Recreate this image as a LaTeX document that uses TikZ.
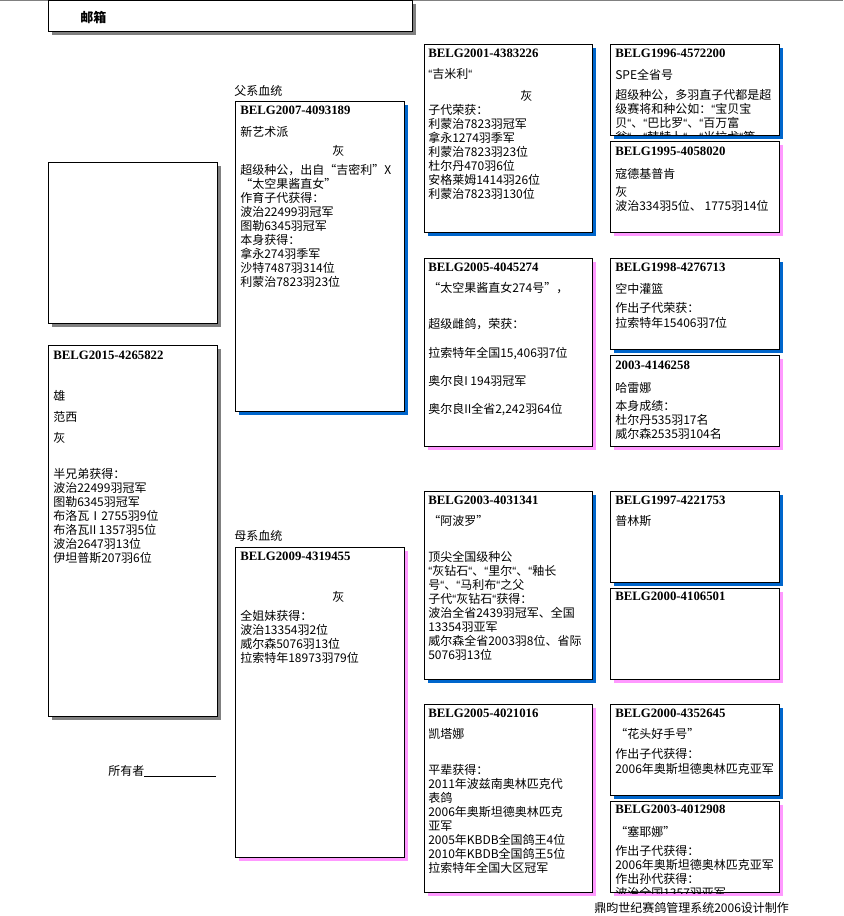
\documentclass[tikz,border=0pt]{standalone}
\usepackage{fontspec}
\usetikzlibrary{shadows}
\usepackage{xcolor}
\newfontfamily\cjk{Noto Sans CJK SC}
\newfontfamily\codefont{Liberation Serif}
\newfontfamily\latinfont{Liberation Sans}
\newcommand\narrowq{{\latinfont “}}
\definecolor{shblue}{RGB}{0,102,204}
\definecolor{shpink}{RGB}{255,153,255}
\definecolor{shgray}{RGB}{128,128,128}

\begin{document}
\begin{tikzpicture}[x=0.75pt,y=-0.75pt]
		% 定义框体与文字样式
		\tikzstyle{card} = [rectangle, draw=black, line width=0.75pt, fill=white, inner sep=0pt, anchor=north west]	% 框
		\tikzstyle{bigcard} = [card, minimum width=126.75pt, minimum height=232.5pt]	% 父母框
		\tikzstyle{midcard} = [card, minimum width=126pt, minimum height=141pt]	% 祖代框
		\tikzstyle{smallcard} = [card, minimum width=126.75pt, minimum height=68.25pt]	% 曾祖代框
		\tikzstyle{grayshadow} = [drop shadow={shadow xshift=2.6pt, shadow yshift=-2.6pt, fill=shgray, opacity=1}]
		\tikzstyle{blueshadow} = [drop shadow={shadow xshift=2.6pt, shadow yshift=-2.6pt, fill=shblue, opacity=1}]
		\tikzstyle{pinkshadow} = [drop shadow={shadow xshift=2.6pt, shadow yshift=-2.6pt, fill=shpink, opacity=1}]
		\tikzstyle{ring} = [font=\codefont\bfseries\fontsize{9.6pt}{11pt}\selectfont, anchor=west, inner sep=0pt]	% 足环号
		\tikzstyle{txt} = [font=\cjk\fontsize{9pt}{10.5pt}\selectfont, align=left, anchor=north west, inner sep=0pt, execute at begin node=\strut]	% 说明文字
		\useasboundingbox (0,0) rectangle (843,916);
		
		% 顶部
		\coordinate (topl) at (0,0.7);
		\coordinate (topr) at (843,0.7);
		\draw [shgray, line width=1pt](topl) -- (topr);
		\node (mailbox) [card, grayshadow, minimum width=273pt, minimum height=23.25pt] at (48,0) {};
		\node (mailtxt) [txt, font=\cjk\bfseries\fontsize{9.75pt}{11pt}\selectfont] at (80,11.3) {邮箱};
		
		% 本鸽
		\node (blank) [card, grayshadow, minimum width=126.75pt, minimum height=120.75pt] at (48,162) {};
		\node (self) [card, grayshadow, minimum width=126.75pt, minimum height=278.25pt] at (48,345) {};
		\node (self-id) [ring] at (53,355) {BELG2015-4265822};
		\node (self-txt) [txt] at (53,389.7) {雄\\[5.25pt]范西\\[5.25pt]灰\\[16.5pt]半兄弟获得：\\波治22499羽冠军\\图勒6345羽冠军\\布洛瓦Ⅰ2755羽9位\\布洛瓦II 1357羽5位\\波治2647羽13位\\伊坦普斯207羽6位};
		\node (owner) [txt] at (108,764.7) {所有者\rule[-1.5pt]{54pt}{0.6pt}};
		
		% 父母
		\node (s-lbl) [txt] at (234,84.7) {父系血统};
		\node (s) [bigcard, blueshadow] at (235,101) {};
		\node (s-id) [ring] at (240,110) {BELG2007-4093189};
		\node (s-txt) [txt] at (240,126.4) {新艺术派\\[3.75pt]\hspace*{69pt}灰\\[3.5pt]超级种公，出自“吉密利”X\\“太空果酱直女”\\作育子代获得：\\波治22499羽冠军\\图勒6345羽冠军\\本身获得：\\拿永274羽季军\\沙特7487羽314位\\利蒙治7823羽23位};
		\node (d-lbl) [txt] at (234,529.7) {母系血统};
		\node (d) [bigcard, pinkshadow] at (235,547) {};
		\node (d-id) [ring] at (240,556) {BELG2009-4319455};
		\node (d-txt) [txt] at (240,591.4) {\hspace*{69pt}灰\\[3.25pt]全姐妹获得：\\波治13354羽2位\\威尔森5076羽13位\\拉索特年18973羽79位};
		
		% 祖代
		\node (ss) [midcard, blueshadow] at (424,44) {};
		\node (ss-id) [ring] at (428,53.7) {BELG2001-4383226};
		\node (ss-txt) [txt] at (428,68.4) {\narrowq 吉米利\narrowq\\[5.7pt]\hspace*{69pt}灰\\子代荣获：\\利蒙治7823羽冠军\\拿永1274羽季军\\利蒙治7823羽23位\\杜尔丹470羽6位\\安格莱姆1414羽26位\\利蒙治7823羽130位};
		\node (sd) [midcard, pinkshadow] at (424,258) {};
		\node (sd-id) [ring] at (428,267) {BELG2005-4045274};
		\node (sd-txt) [txt] at (428,281.7) {“太空果酱直女274号”，\\[17pt]超级雌鸽，荣获：\\[10.75pt]拉索特年全国15,406羽7位\\[10.75pt]奥尔良I 194羽冠军\\[10.25pt]奥尔良II全省2,242羽64位};
		\node (ds) [midcard, blueshadow] at (424,491) {};
		\node (ds-id) [ring] at (428,500) {BELG2003-4031341};
		\node (ds-txt) [txt] at (428,514.7) {“阿波罗”\\[17pt]顶尖全国级种公\\\narrowq 灰钻石\narrowq 、\narrowq 里尔\narrowq 、\narrowq 釉长\\号\narrowq 、\narrowq 马利布\narrowq 之父\\子代\narrowq 灰钻石\narrowq 获得：\\波治全省2439羽冠军、全国\\13354羽亚军\\威尔森全省2003羽8位、省际\\5076羽13位};
		\node (dd) [midcard, pinkshadow] at (424,704) {};
		\node (dd-id) [ring] at (428,713) {BELG2005-4021016};
		\node (dd-txt) [txt] at (428,727.7) {凯塔娜\\[17pt]平辈获得：\\2011年波兹南奥林匹克代\\表鸽\\2006年奥斯坦德奥林匹克\\亚军\\2005年KBDB全国鸽王4位\\2010年KBDB全国鸽王5位\\拉索特年全国大区冠军};
		
		% 曾祖代
		\node (sss) [smallcard, blueshadow] at (610,44) {};
		\node (sss-id) [ring] at (615,53) {BELG1996-4572200};
		\begin{scope}
			\clip (sss.north west) rectangle (sss.south east);
			\node (sss-txt) [txt] at (615,68.7) {SPE全省号\\[5pt]超级种公，多羽直子代都是超\\级赛将和种公如：\narrowq 宝贝宝\\贝\narrowq 、\narrowq 巴比罗\narrowq 、\narrowq 百万富\\翁\narrowq 、\narrowq 韩特卜\narrowq 、\narrowq 米拉戈\narrowq 等};
		\end{scope}
		\node (ssd) [smallcard, pinkshadow] at (610,141) {};
		\node (ssd-id) [ring] at (615,151.3) {BELG1995-4058020};
		\node (ssd-txt) [txt] at (615,167.7) {寇德基普肯\\[3.25pt]灰\\波治334羽5位、 1775羽14位};
		\node (sds) [smallcard, blueshadow] at (610,258) {};
		\node (sds-id) [ring] at (615,267) {BELG1998-4276713};
		\node (sds-txt) [txt] at (615,282.7) {空中灌篮\\[3.75pt]作出子代荣获：\\[1.25pt]拉索特年15406羽7位};
		\node (sdd) [smallcard, pinkshadow] at (610,355) {};
		\node (sdd-id) [ring] at (615,365.3) {2003-4146258};
		\node (sdd-txt) [txt] at (615,381.7) {哈雷娜\\[3.25pt]本身成绩：\\杜尔丹535羽17名\\威尔森2535羽104名};
		\node (dss) [smallcard, blueshadow] at (610,491) {};
		\node (dss-id) [ring] at (615,500) {BELG1997-4221753};
		\node (dss-txt) [txt] at (615,514.7) {普林斯};
		\node (dsd) [smallcard, pinkshadow] at (610,588) {};
		\node (dsd-id) [ring] at (615,596.7) {BELG2000-4106501};
		\node (dds) [smallcard, blueshadow] at (610,704) {};
		\node (dds-id) [ring] at (615,713) {BELG2000-4352645};
		\node (dds-txt) [txt] at (615,727.7) {“花头好手号”\\[4.5pt]作出子代获得：\\[0.75pt]2006年奥斯坦德奥林匹克亚军};
		\node (ddd) [smallcard, pinkshadow] at (610,801) {};
		\node (ddd-id) [ring] at (615,809.7) {BELG2003-4012908};
		\begin{scope}
			\clip (ddd.north west) rectangle (ddd.south east);
			\node (ddd-txt) [txt] at (615,826) {“塞耶娜”\\[4pt]作出子代获得：\\2006年奥斯坦德奥林匹克亚军\\作出孙代获得：\\波治全国1357羽亚军};
		\end{scope}
		
		% 页脚
		\node (footer) [txt] at (594,902) {鼎昀世纪赛鸽管理系统2006设计制作};
	\end{tikzpicture}
\end{document}
